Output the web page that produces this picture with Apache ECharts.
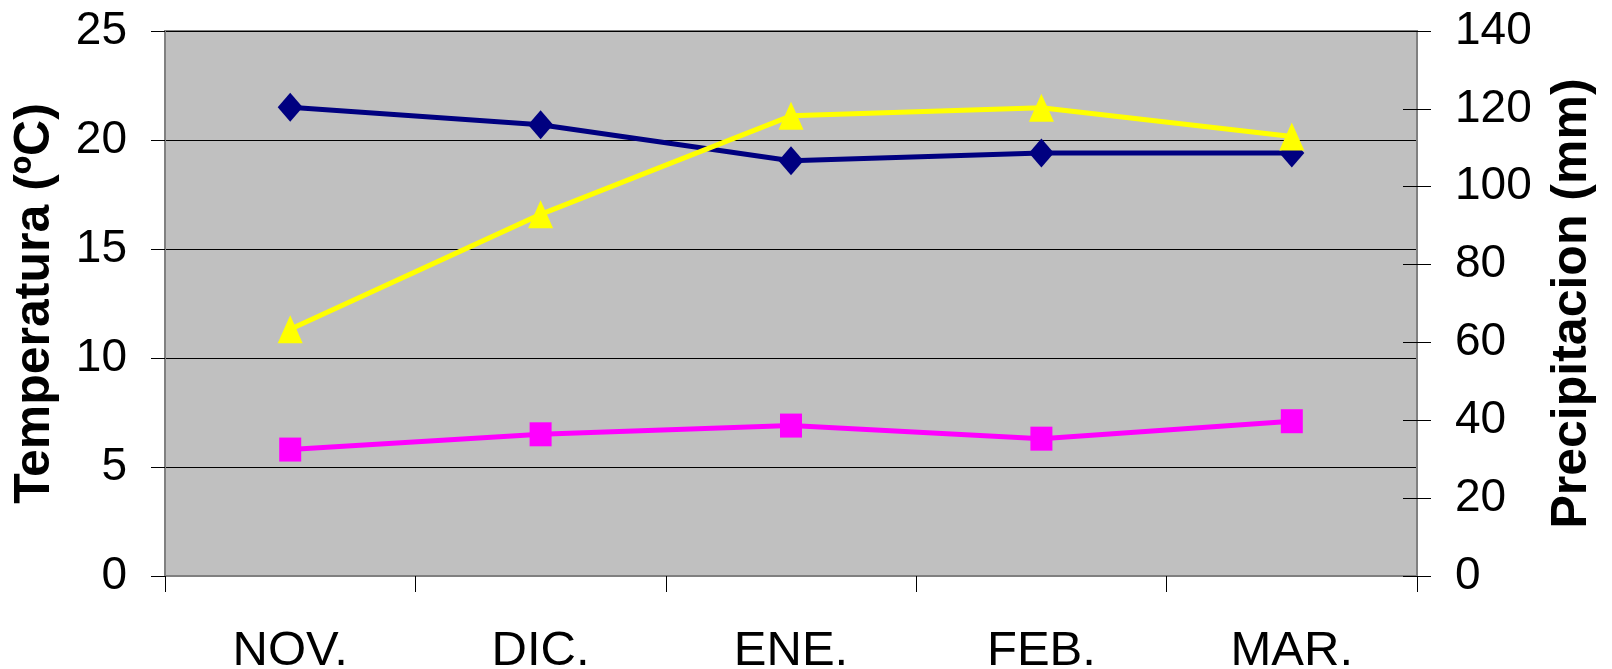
<!DOCTYPE html>
<html lang="es">
  <head>
    <meta charset="utf-8">
    <title>Temperatura y Precipitacion</title>
    <script src="https://cdn.jsdelivr.net/npm/echarts@6/dist/echarts.min.js"></script>
    <style>
      html, body { margin: 0; padding: 0; background: #fff; }
      #chart { width: 1612px; height: 669px; }
    </style>
  </head>
  <body>
    <div id="chart"></div>

    <script type="text/javascript">
    // values
    const months = ['NOV.', 'DIC.', 'ENE.', 'FEB.', 'MAR.'];
    const tempMax = [21.5, 20.7, 19.05, 19.4, 19.4];   // navy diamonds, left axis
    const tempMin = [5.8, 6.5, 6.9, 6.3, 7.1];         // magenta squares, left axis
    const precip = [63.4, 92.9, 118.2, 120.3, 112.9];  // yellow triangles, right axis

    const tickFont = "'Liberation Sans', Arial, sans-serif";
    const titleFont = "'Liberation Sans', Arial, sans-serif";

    const chart = echarts.init(document.getElementById('chart'), null, { renderer: 'canvas' });

    chart.setOption({
      animation: false,
      backgroundColor: '#ffffff',
      grid: {
        left: 165,
        right: 195,
        top: 31,
        bottom: 93,
        containLabel: false,
        outerBoundsMode: 'none',
        show: true,
        backgroundColor: '#c0c0c0',
        borderColor: '#808080',
        borderWidth: 2
      },
      xAxis: {
        type: 'category',
        data: months,
        boundaryGap: true,
        axisLine: { lineStyle: { color: '#808080', width: 2 } },
        axisTick: { show: true, length: 16, lineStyle: { color: '#000', width: 1 } },
        axisLabel: {
          color: '#000',
          fontFamily: tickFont,
          fontSize: 49,
          margin: 51
        },
        splitLine: { show: false }
      },
      yAxis: [
        {
          type: 'value',
          position: 'left',
          min: 0,
          max: 25,
          interval: 5,
          name: 'Temperatura (ºC)',
          nameLocation: 'middle',
          nameRotate: 90,
          nameGap: 105,
          nameTextStyle: {
            color: '#000',
            fontFamily: titleFont,
            fontWeight: 'bold',
            fontSize: 50
          },
          axisLine: { show: true, lineStyle: { color: '#808080', width: 2 } },
          axisTick: { show: true, length: 14, lineStyle: { color: '#000', width: 1 } },
          axisLabel: {
            color: '#000',
            fontFamily: tickFont,
            fontSize: 46,
            margin: 38
          },
          splitLine: { show: true, lineStyle: { color: '#000', width: 1 } }
        },
        {
          type: 'value',
          position: 'right',
          min: 0,
          max: 140,
          interval: 20,
          name: 'Precipitacion (mm)',
          nameLocation: 'middle',
          nameRotate: 90,
          nameGap: 130,
          nameTextStyle: {
            color: '#000',
            fontFamily: titleFont,
            fontWeight: 'bold',
            fontSize: 50
          },
          axisLine: { show: true, lineStyle: { color: '#808080', width: 2 } },
          axisTick: { show: true, length: 14, lineStyle: { color: '#000', width: 1 } },
          axisLabel: {
            color: '#000',
            fontFamily: tickFont,
            fontSize: 46,
            margin: 38
          },
          splitLine: { show: false }
        },
        {
          // inner half of the right ticks (they cross the axis line)
          type: 'value',
          position: 'right',
          min: 0,
          max: 140,
          interval: 20,
          axisLine: { show: false },
          axisTick: { show: true, inside: true, length: 14, lineStyle: { color: '#000', width: 1 } },
          axisLabel: { show: false },
          splitLine: { show: false }
        }
      ],
      series: [
        {
          name: 'Temp. max',
          type: 'line',
          yAxisIndex: 0,
          data: tempMax,
          symbol: 'diamond',
          symbolSize: [25, 29],
          lineStyle: { color: '#000080', width: 5 },
          itemStyle: { color: '#000080' },
          z: 2
        },
        {
          name: 'Temp. min',
          type: 'line',
          yAxisIndex: 0,
          data: tempMin,
          symbol: 'rect',
          symbolSize: [22, 24],
          lineStyle: { color: '#ff00ff', width: 5 },
          itemStyle: { color: '#ff00ff' },
          z: 3
        },
        {
          name: 'Precipitacion',
          type: 'line',
          yAxisIndex: 1,
          data: precip,
          symbol: 'triangle',
          symbolSize: [25, 28],
          lineStyle: { color: '#ffff00', width: 5 },
          itemStyle: { color: '#ffff00' },
          z: 4
        }
      ]
    });
    </script>
  </body>
</html>
